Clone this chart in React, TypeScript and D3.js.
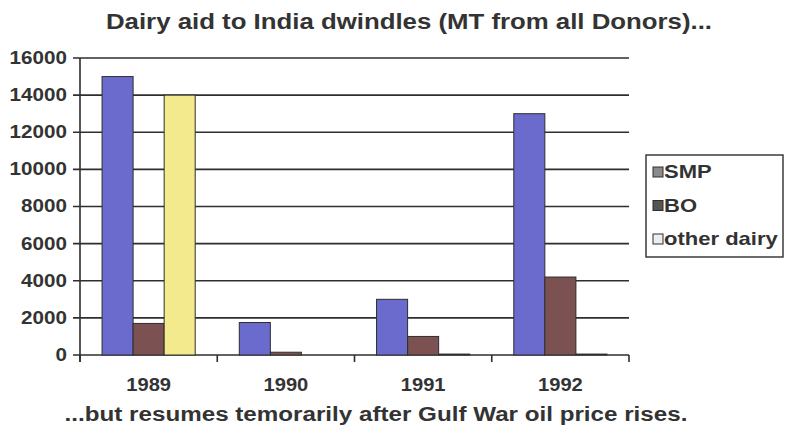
import React from "react";
import * as d3 from "d3";

const years = ["1989", "1990", "1991", "1992"];
const seriesNames = ["SMP", "BO", "other dairy"];
const smp = [15000, 1750, 3000, 13000];
const bo = [1700, 150, 1000, 4200];
const otherDairy = [14000, 0, 50, 50];
const yTicks = [0, 2000, 4000, 6000, 8000, 10000, 12000, 14000, 16000];

const barColors = ["#6b6bcd", "#7b5151", "#f2ea8c"];
const swatchColors = ["#8a8a8a", "#555555", "#eeeeee"];

const W = 791;
const H = 434;
const left = 80;
const right = 629;
const top = 58;
const bottom = 355;
const ink = "#2e2e2e";
const font = "'Liberation Sans', Arial, sans-serif";

function Txt(props: {
  x: number;
  y: number;
  size: number;
  anchor?: string;
  sx?: number;
  children: React.ReactNode;
}) {
  const { x, y, size, anchor = "start", sx = 1.12, children } = props;
  return (
    <text
      transform={`translate(${x},${y}) scale(${sx},1)`}
      fontSize={size}
      fontWeight="bold"
      fontFamily={font}
      fill="#333"
      textAnchor={anchor}
      dominantBaseline="central"
    >
      {children}
    </text>
  );
}

export default function App() {
  const x0 = d3.scaleBand<string>().domain(years).range([left, right]).paddingInner(0).paddingOuter(0);
  const x1 = d3
    .scaleBand<string>()
    .domain(seriesNames)
    .range([0, x0.bandwidth()])
    .paddingInner(0)
    .paddingOuter(0.71);
  const y = d3.scaleLinear().domain([0, 16000]).range([bottom, top]);
  const series = [smp, bo, otherDairy];

  return (
    <svg
      width={W}
      height={H}
      style={{ position: "absolute", left: 0, top: 0, background: "#fff" }}
    >
      <rect x={0} y={0} width={W} height={H} fill="#fff" />
      <Txt x={409} y={22} size={21.5} sx={1.2} anchor="middle">
        Dairy aid to India dwindles (MT from all Donors)...
      </Txt>

      {yTicks.map((t) => (
        <g key={t}>
          <line x1={left - 7} x2={right} y1={y(t)} y2={y(t)} stroke={ink} strokeWidth={1.6} />
          <Txt x={67} y={y(t)} size={17.5} sx={1.18} anchor="end">
            {t}
          </Txt>
        </g>
      ))}
      <line x1={left} x2={left} y1={top} y2={bottom + 7} stroke={ink} strokeWidth={1.6} />

      {years.map((yr, i) => (
        <g key={yr}>
          {series.map((vals, s) => {
            const v = vals[i];
            const bx = (x0(yr) as number) + (x1(seriesNames[s]) as number);
            return (
              <rect
                key={s}
                x={bx}
                y={y(v)}
                width={x1.bandwidth()}
                height={bottom - y(v)}
                fill={barColors[s]}
                stroke={ink}
                strokeWidth={1}
              />
            );
          })}
          <Txt x={(x0(yr) as number) + x0.bandwidth() / 2} y={385} size={18} anchor="middle">
            {yr}
          </Txt>
        </g>
      ))}

      {years.concat([""]).map((yr, i) => {
        const tx = left + i * x0.bandwidth();
        return <line key={i} x1={tx} x2={tx} y1={bottom} y2={bottom + 7} stroke={ink} strokeWidth={1.6} />;
      })}

      <Txt x={376} y={414} size={20} sx={1.21} anchor="middle">
        ...but resumes temorarily after Gulf War oil price rises.
      </Txt>

      <rect x={646} y={155} width={137} height={102} fill="#fff" stroke={ink} strokeWidth={1.4} />
      {seriesNames.map((n, s) => {
        const ly = 172 + s * 33.5;
        return (
          <g key={n}>
            <rect x={653} y={ly - 5} width={10} height={10} fill={swatchColors[s]} stroke={ink} strokeWidth={1} />
            <Txt x={664} y={ly} size={18.5} sx={1.19}>
              {n}
            </Txt>
          </g>
        );
      })}
    </svg>
  );
}
